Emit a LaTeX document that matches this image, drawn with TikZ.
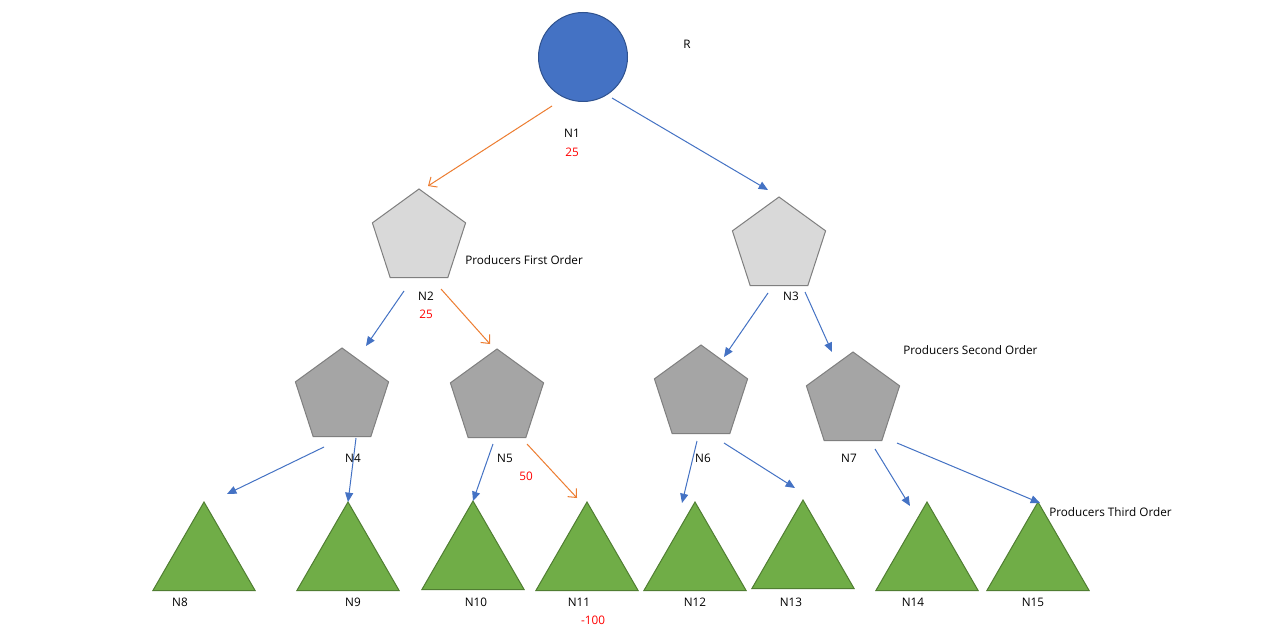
\documentclass[tikz,border=0pt]{standalone}
\usepackage{fontspec}
\setmainfont{Open Sans}
\usetikzlibrary{shapes.geometric,arrows.meta}
\definecolor{rootblue}{HTML}{4472C4}
\definecolor{rootedge}{HTML}{2F528F}
\definecolor{pentlight}{HTML}{D9D9D9}
\definecolor{pentdark}{HTML}{A5A5A5}
\definecolor{pentedge}{HTML}{7F7F7F}
\definecolor{trigreen}{HTML}{70AD47}
\definecolor{triedge}{HTML}{507E32}
\definecolor{arrblue}{HTML}{4472C4}
\definecolor{arrorange}{HTML}{ED7D31}
\definecolor{valred}{HTML}{FF0000}
\tikzset{
  rootnode/.style={circle,draw=rootedge,fill=rootblue,line width=0.75pt,minimum size=66.75pt,inner sep=0pt},
  penta/.style={regular polygon,regular polygon sides=5,draw=pentedge,line width=0.75pt,minimum size=73.5pt,inner sep=0pt},
  pentaone/.style={penta,fill=pentlight},
  pentatwo/.style={penta,fill=pentdark},
  tri/.style={regular polygon,regular polygon sides=3,draw=triedge,fill=trigreen,line width=0.75pt,minimum size=88.5pt,inner sep=0pt},
  lbl/.style={font=\fontsize{8.8}{10}\selectfont,inner sep=0pt},
  val/.style={lbl,text=valred},
  bluearr/.style={draw=arrblue,line width=0.75pt,-{Triangle[length=7pt,width=6pt]}},
  orarr/.style={draw=arrorange,line width=0.75pt,-{Straight Barb[length=5pt,width=9pt]}},
}
\begin{document}
\begin{tikzpicture}[x=0.75pt,y=-0.75pt]
\fill[white] (0,0) rectangle (1270,638);
\useasboundingbox (0,0) rectangle (1270,638);
% shapes
\node[rootnode] (R) at (583,57) {};
\node[pentaone] (N2) at (419,238) {};
\node[pentaone] (N3) at (779,246) {};
\node[pentatwo] (N4) at (342,397) {};
\node[pentatwo] (N5) at (497,398) {};
\node[pentatwo] (N6) at (701,394) {};
\node[pentatwo] (N7) at (853,401) {};
\node[tri] (N8) at (204,561) {};
\node[tri] (N9) at (348,561) {};
\node[tri] (N10) at (473,560) {};
\node[tri] (N11) at (587,561) {};
\node[tri] (N12) at (695,561) {};
\node[tri] (N13) at (803,559) {};
\node[tri] (N14) at (927,561) {};
\node[tri] (N15) at (1038,561) {};
% labels
\node[lbl] (tR) at (687,44) {R};
\node[lbl] (tN1) at (572,133) {N1};
\node[val] (v1) at (572,152) {25};
\node[lbl] (tN2) at (426,296) {N2};
\node[val] (v2) at (426,314) {25};
\node[lbl] (tN3) at (791,296) {N3};
\node[lbl] (tN4) at (353,458) {N4};
\node[lbl] (tN5) at (505,458) {N5};
\node[val] (v5) at (526,476) {50};
\node[lbl] (tN6) at (703,458) {N6};
\node[lbl] (tN7) at (849,458) {N7};
\node[lbl] (tN8) at (180,602) {N8};
\node[lbl] (tN9) at (353,602) {N9};
\node[lbl] (tN10) at (476,602) {N10};
\node[lbl] (tN11) at (579,602) {N11};
\node[val] (v11) at (593,620) {-100};
\node[lbl] (tN12) at (695,602) {N12};
\node[lbl] (tN13) at (791,602) {N13};
\node[lbl] (tN14) at (913,602) {N14};
\node[lbl] (tN15) at (1033,602) {N15};
\node[lbl,anchor=west] (pfo) at (465,260) {Producers First Order};
\node[lbl,anchor=west] (pso) at (903,350) {Producers Second Order};
\node[lbl,anchor=west] (pto) at (1049,512) {Producers Third Order};
% connector end points
\coordinate (s1) at (552,106); \coordinate (e1) at (428,186);
\coordinate (s2) at (612,98);  \coordinate (e2) at (768,190);
\coordinate (s3) at (404,291); \coordinate (e3) at (366,346);
\coordinate (s4) at (441,289); \coordinate (e4) at (490,344);
\coordinate (s5) at (768,293); \coordinate (e5) at (724,357);
\coordinate (s6) at (805,292); \coordinate (e6) at (832,352);
\coordinate (s7) at (324,447); \coordinate (e7) at (227,494);
\coordinate (s8) at (356,438); \coordinate (e8) at (348,502);
\coordinate (s9) at (493,444); \coordinate (e9) at (473,501);
\coordinate (s10) at (527,444); \coordinate (e10) at (577,498);
\coordinate (s11) at (697,441); \coordinate (e11) at (682,503);
\coordinate (s12) at (724,443); \coordinate (e12) at (795,488);
\coordinate (s13) at (875,449); \coordinate (e13) at (910,506);
\coordinate (s14) at (897,443); \coordinate (e14) at (1040,503);
% connectors
\draw[orarr] (s1) -- (e1);
\draw[bluearr] (s2) -- (e2);
\draw[bluearr] (s3) -- (e3);
\draw[orarr] (s4) -- (e4);
\draw[bluearr] (s5) -- (e5);
\draw[bluearr] (s6) -- (e6);
\draw[bluearr] (s7) -- (e7);
\draw[bluearr] (s8) -- (e8);
\draw[bluearr] (s9) -- (e9);
\draw[orarr] (s10) -- (e10);
\draw[bluearr] (s11) -- (e11);
\draw[bluearr] (s12) -- (e12);
\draw[bluearr] (s13) -- (e13);
\draw[bluearr] (s14) -- (e14);
\end{tikzpicture}
\end{document}
